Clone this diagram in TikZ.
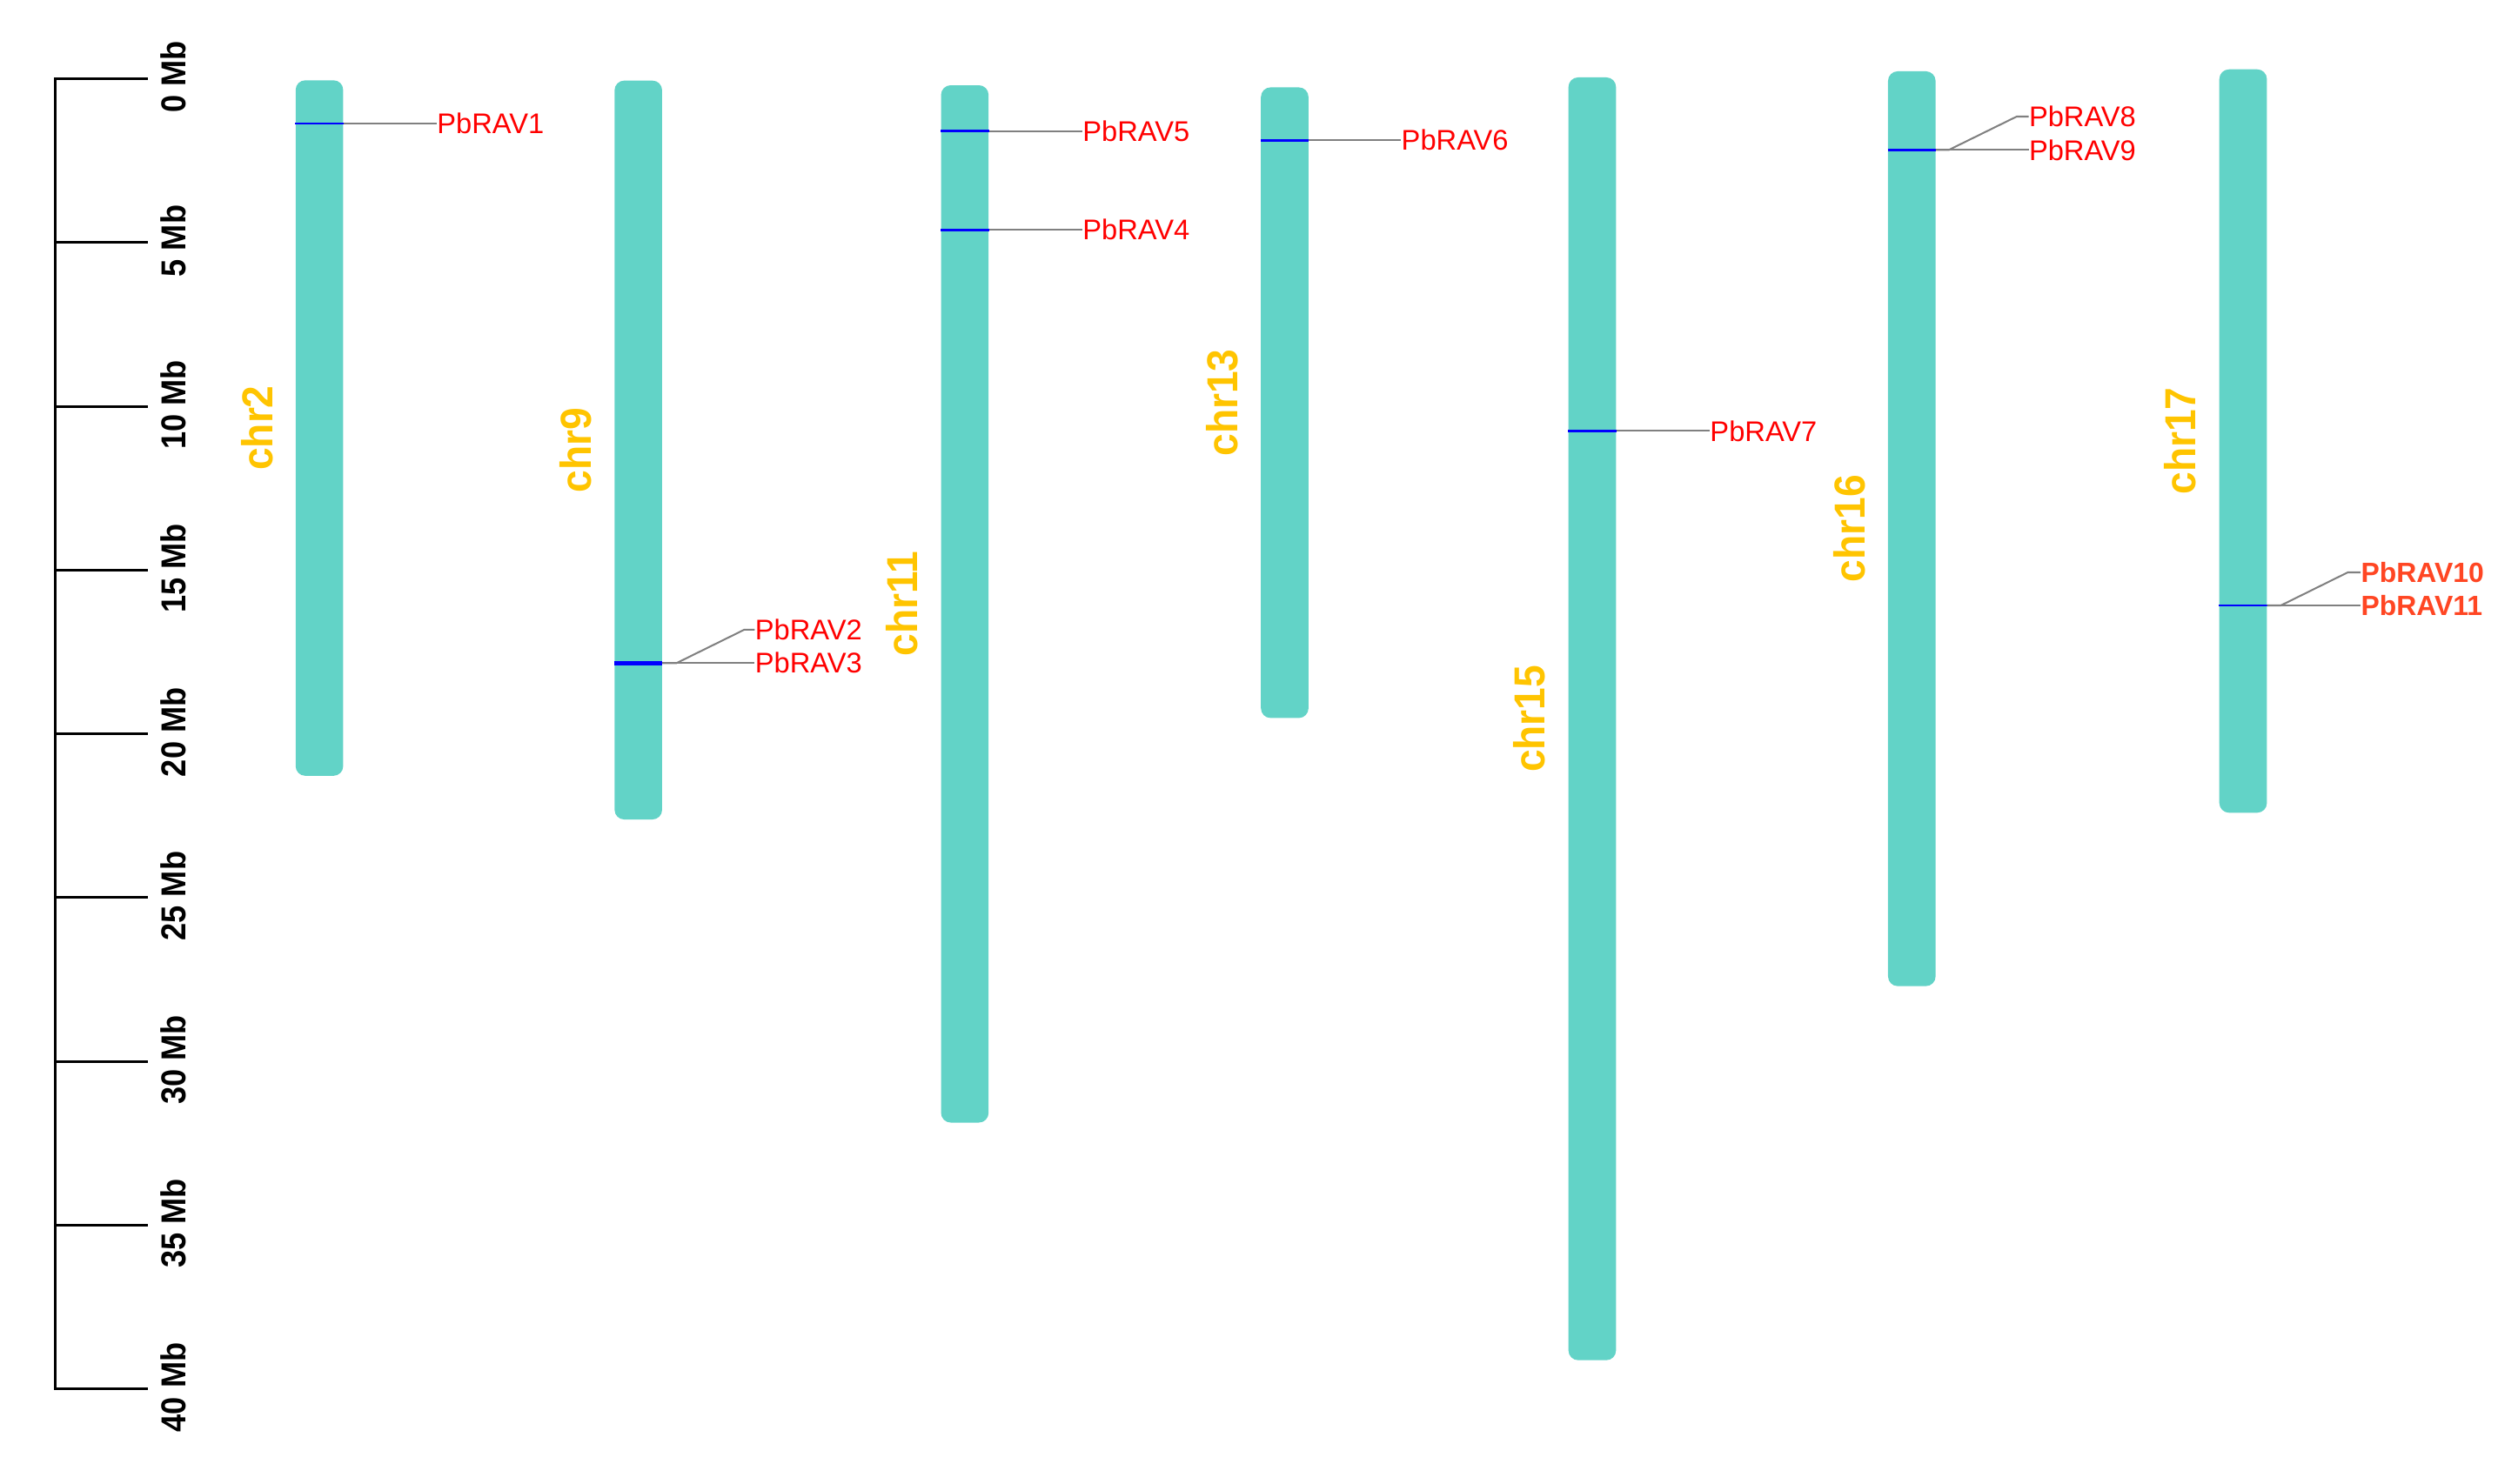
\documentclass[tikz,border=0pt]{standalone}
\usepackage{fontspec}
\setmainfont{Liberation Sans}
\definecolor{turq}{RGB}{98,211,199}
\definecolor{gold}{RGB}{255,196,0}
\definecolor{conngray}{RGB}{128,128,128}
\definecolor{labred}{RGB}{255,0,0}
\definecolor{labor}{RGB}{255,70,35}
\begin{document}
\begin{tikzpicture}[x=1pt,y=-1pt,
  chrom/.style={rectangle, fill=turq, draw=none, rounded corners=6pt, minimum width=29.6pt, inner sep=0pt, anchor=north west},
  chrlab/.style={text=gold, font=\bfseries\fontsize{25}{25}\selectfont, rotate=90, yscale=1.08, anchor=base, inner sep=0pt},
  mblab/.style={text=black, font=\bfseries\fontsize{19.6}{20}\selectfont, rotate=90, yscale=1.1, anchor=base, inner sep=0pt},
  genelab/.style={text=labred, font=\fontsize{17.7}{18}\selectfont, anchor=base west, inner sep=0pt},
  genelabb/.style={text=labor, font=\bfseries\fontsize{17.3}{18}\selectfont, anchor=base west, inner sep=0pt},
  bluemark/.style={draw=blue, line width=1.4pt},
  conn/.style={draw=conngray, line width=1.1pt},
  axisline/.style={draw=black, line width=1.6pt}]
\useasboundingbox (0,0) rectangle (1568,924);

% scale axis
\coordinate (axtop) at (34.5,49.1);
\coordinate (axbot) at (34.5,865.1);
\coordinate (ticktop) at (92,49.1);
\coordinate (tickbot) at (92,865.1);
\draw[axisline] (ticktop) -- (axtop) -- (axbot) -- (tickbot);
\foreach \m in {5,10,...,35} {
  \pgfmathsetmacro\yy{49.1+20.4*\m}
  \draw[axisline] (34.5,\yy) -- (92,\yy);
}
\foreach \m in {0,5,...,40} {
  \pgfmathsetmacro\yy{49.1+20.4*\m-1}
  \node[mblab] (mb\m) at (115.5,\yy) {\m\ Mb};
}

% chromosomes
\node[chrom, minimum height=433.2pt] (c2) at (183.9,49.8) {};
\node[chrom, minimum height=460.2pt] (c9) at (382.5,50) {};
\node[chrom, minimum height=646.1pt] (c11) at (585.8,52.9) {};
\node[chrom, minimum height=392.8pt] (c13) at (785,54.2) {};
\node[chrom, minimum height=799pt] (c15) at (976.5,48) {};
\node[chrom, minimum height=569.8pt] (c16) at (1175.5,44.2) {};
\node[chrom, minimum height=463pt] (c17) at (1381.8,43) {};

% chromosome labels
\node[chrlab] (n2) at ([xshift=-14.3pt]c2.west) {chr2};
\node[chrlab] (n9) at ([xshift=-14.3pt]c9.west) {chr9};
\node[chrlab] (n11) at ([xshift=-14.3pt]c11.west) {chr11};
\node[chrlab] (n13) at ([xshift=-14.3pt]c13.west) {chr13};
\node[chrlab] (n15) at ([xshift=-14.3pt]c15.west) {chr15};
\node[chrlab] (n16) at ([xshift=-14.3pt]c16.west) {chr16};
\node[chrlab] (n17) at ([xshift=-14.3pt]c17.west) {chr17};

% gene levels
\coordinate (y1) at (0,77);
\coordinate (y2) at (0,392.2);
\coordinate (y23) at (0,413);
\coordinate (y5) at (0,81.6);
\coordinate (y4) at (0,143.2);
\coordinate (y6) at (0,87.4);
\coordinate (y7) at (0,268.4);
\coordinate (y8) at (0,72.6);
\coordinate (y89) at (0,93.4);
\coordinate (y10) at (0,356.5);
\coordinate (y1011) at (0,377.1);

% labels
\node[genelab] (l1) at (272,83.3) {PbRAV1};
\node[genelab] (l2) at (470,398.5) {PbRAV2};
\node[genelab] (l3) at (470,419.3) {PbRAV3};
\node[genelab] (l5) at (674,87.9) {PbRAV5};
\node[genelab] (l4) at (674,149.5) {PbRAV4};
\node[genelab] (l6) at (872.5,93.7) {PbRAV6};
\node[genelab] (l7) at (1064.7,274.7) {PbRAV7};
\node[genelab] (l8) at (1263.3,78.9) {PbRAV8};
\node[genelab] (l9) at (1263.3,99.7) {PbRAV9};
\node[genelabb] (l10) at (1470,362.8) {PbRAV10};
\node[genelabb] (l11) at (1470,383.4) {PbRAV11};

% blue marks
\draw[bluemark] (c2.west |- y1) -- (c2.east |- y1);
\draw[bluemark, line width=2.6pt] (c9.west |- y23) -- (c9.east |- y23);
\draw[bluemark] (c11.west |- y5) -- (c11.east |- y5);
\draw[bluemark] (c11.west |- y4) -- (c11.east |- y4);
\draw[bluemark] (c13.west |- y6) -- (c13.east |- y6);
\draw[bluemark] (c15.west |- y7) -- (c15.east |- y7);
\draw[bluemark] (c16.west |- y89) -- (c16.east |- y89);
\draw[bluemark] (c17.west |- y1011) -- (c17.east |- y1011);

% connectors
\draw[conn] (c2.east |- y1) -- (l1.west |- y1);
\draw[conn] (c9.east |- y23) -- ++(8.8,0) -- ([xshift=-6.5pt]l2.west |- y2) -- (l2.west |- y2);
\draw[conn] (c9.east |- y23) -- (l3.west |- y23);
\draw[conn] (c11.east |- y5) -- (l5.west |- y5);
\draw[conn] (c11.east |- y4) -- (l4.west |- y4);
\draw[conn] (c13.east |- y6) -- (l6.west |- y6);
\draw[conn] (c15.east |- y7) -- (l7.west |- y7);
\draw[conn] (c16.east |- y89) -- ++(8,0) -- ([xshift=-7.5pt]l8.west |- y8) -- (l8.west |- y8);
\draw[conn] (c16.east |- y89) -- (l9.west |- y89);
\draw[conn] (c17.east |- y1011) -- ++(8.5,0) -- ([xshift=-8pt]l10.west |- y10) -- (l10.west |- y10);
\draw[conn] (c17.east |- y1011) -- (l11.west |- y1011);
\end{tikzpicture}
\end{document}
